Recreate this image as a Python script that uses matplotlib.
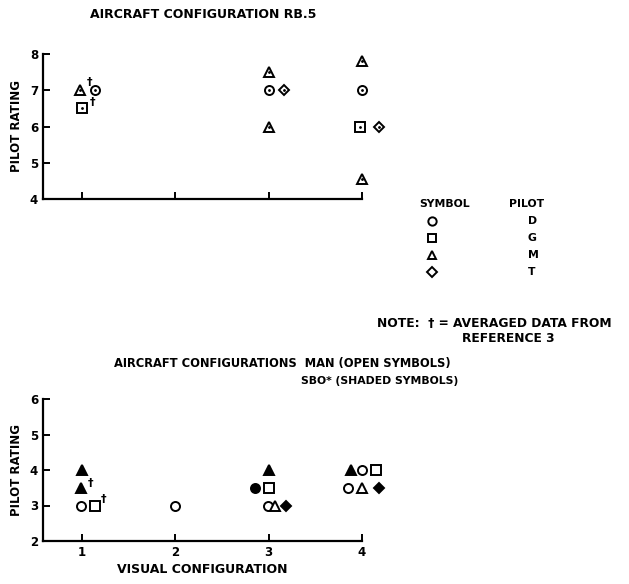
import matplotlib
matplotlib.use('Agg')
import matplotlib.pyplot as plt

# top panel: aircraft configuration RB.5 (open symbols)
top_D_x = [1.14, 3.0, 4.0]
top_D_y = [7.0, 7.0, 7.0]
top_G_x = [1.0, 3.98]
top_G_y = [6.5, 6.0]
top_M_x = [0.98, 3.0, 3.0, 4.0, 4.0]
top_M_y = [7.0, 7.5, 6.0, 7.8, 4.55]
top_T_x = [3.16, 4.18]
top_T_y = [7.0, 6.0]

# bottom panel: MAN (open) and SBO* (shaded)
man_D_x = [0.99, 2.0, 2.99, 4.0, 3.85]
man_D_y = [3.0, 3.0, 3.0, 4.0, 3.5]
man_G_x = [1.14, 3.0, 4.15]
man_G_y = [3.0, 3.5, 4.0]
man_M_x = [3.07, 4.0]
man_M_y = [3.0, 3.5]
sbo_D_x = [2.85]
sbo_D_y = [3.5]
sbo_M_x = [1.0, 0.99, 3.0, 3.88]
sbo_M_y = [4.0, 3.5, 4.0, 4.0]
sbo_T_x = [3.18, 4.18]
sbo_T_y = [3.0, 3.5]

pilots = ['D', 'G', 'M', 'T']
symbols = ['o', 's', '^', 'D']

plt.rcParams['font.family'] = 'DejaVu Sans'
plt.rcParams['font.weight'] = 'bold'

W, H = 629, 584
fig = plt.figure(figsize=(W / 100, H / 100), dpi=100)


def px_axes(x0, y0, x1, y1):
    return fig.add_axes([x0 / W, 1 - y1 / H, (x1 - x0) / W, (y1 - y0) / H])


def style(ax, ylo, yhi):
    ax.set_xlim(0.58, 4.0)
    ax.set_ylim(ylo, yhi)
    ax.spines['top'].set_visible(False)
    ax.spines['right'].set_visible(False)
    ax.spines['left'].set_linewidth(1.6)
    ax.spines['bottom'].set_linewidth(1.6)
    ax.tick_params(direction='in', length=5, width=1.4, labelsize=8.5)
    ax.set_xticks([1, 2, 3, 4])
    ax.set_yticks(range(ylo, yhi + 1))
    ax.set_ylabel('PILOT RATING', fontsize=8.5, fontweight='bold', labelpad=5)
    for lab in ax.get_yticklabels() + ax.get_xticklabels():
        lab.set_fontweight('bold')


def pts(ax, x, y, m, filled=False, dot=False, ms=6.5):
    ax.plot(x, y, m, ls='none', ms=ms, mec='black', mew=1.4,
            mfc='black' if filled else 'white', clip_on=False)
    if dot:
        ax.plot(x, y, '.', ls='none', ms=2, color='black', clip_on=False)


ax1 = px_axes(43, 54, 362, 199)
style(ax1, 4, 8)
ax1.set_xticklabels([])
pts(ax1, top_D_x, top_D_y, 'o', dot=True)
pts(ax1, top_G_x, top_G_y, 's', dot=True)
pts(ax1, top_M_x, top_M_y, '^', dot=True)
pts(ax1, top_T_x, top_T_y, 'D', dot=True, ms=5.5)
ax1.text(1.05, 7.15, '†', fontsize=8)
ax1.text(1.08, 6.6, '†', fontsize=8)
fig.text(203 / W, 1 - 15 / H, 'AIRCRAFT CONFIGURATION RB.5', ha='center', va='center',
         fontsize=9, fontweight='bold')

ax2 = px_axes(43, 399, 362, 541)
style(ax2, 2, 6)
ax2.set_xlabel('VISUAL CONFIGURATION', fontsize=9, fontweight='bold', labelpad=3)
pts(ax2, man_D_x, man_D_y, 'o')
pts(ax2, man_G_x, man_G_y, 's')
pts(ax2, man_M_x, man_M_y, '^')
pts(ax2, sbo_D_x, sbo_D_y, 'o', filled=True)
pts(ax2, sbo_M_x, sbo_M_y, '^', filled=True)
pts(ax2, sbo_T_x, sbo_T_y, 'D', filled=True, ms=5.5)
ax2.text(1.06, 3.55, '†', fontsize=8)
ax2.text(1.2, 3.1, '†', fontsize=8)
fig.text(114 / W, 1 - 364 / H, 'AIRCRAFT CONFIGURATIONS  MAN (OPEN SYMBOLS)', ha='left',
         va='center', fontsize=8.3, fontweight='bold')
fig.text(301 / W, 1 - 381 / H, 'SBO* (SHADED SYMBOLS)', ha='left', va='center',
         fontsize=7.8, fontweight='bold')

# key
leg = fig.add_axes([0, 0, 1, 1])
leg.set_xlim(0, W)
leg.set_ylim(H, 0)
leg.axis('off')
leg.text(445, 204, 'SYMBOL', ha='center', va='center', fontsize=7.8, fontweight='bold')
leg.text(509, 204, 'PILOT', ha='left', va='center', fontsize=7.8, fontweight='bold')
for i, (p, m) in enumerate(zip(pilots, symbols)):
    yy = 221 + i * 17
    leg.plot([432], [yy], m, ms=5 if m == 'D' else 6, mec='black', mfc='white', mew=1.4)
    leg.text(528, yy, p, ha='left', va='center', fontsize=7.8, fontweight='bold')
leg.text(377, 324, 'NOTE:  † = AVERAGED DATA FROM', ha='left', va='center',
         fontsize=8.8, fontweight='bold')
leg.text(508, 339, 'REFERENCE 3', ha='center', va='center', fontsize=8.8, fontweight='bold')

fig.savefig('out.png', dpi=100)
